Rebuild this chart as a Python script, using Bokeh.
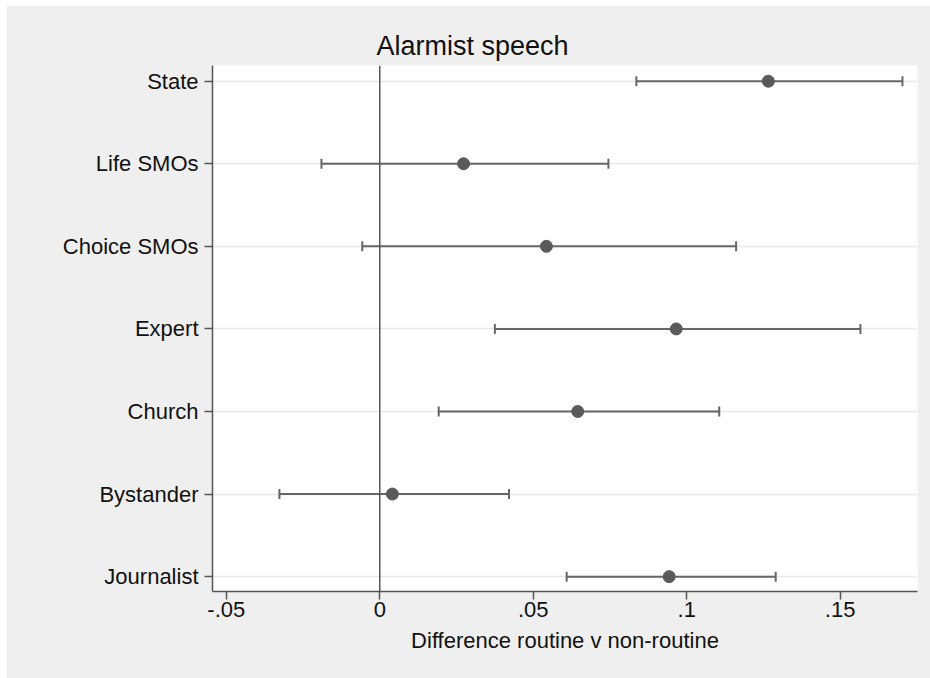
from bokeh.plotting import figure
from bokeh.models import (ColumnDataSource, Span, Title, FixedTicker, Whisker,
                          TeeHead, Range1d)
from bokeh.embed import file_html
from bokeh.resources import INLINE

# Coefficient plot: difference in alarmist speech, routine vs non-routine
categories = ["State", "Life SMOs", "Choice SMOs", "Expert", "Church",
              "Bystander", "Journalist"]
estimate = [0.1266, 0.0273, 0.0543, 0.0966, 0.0645, 0.0041, 0.0943]
lower = [0.0836, -0.0190, -0.0057, 0.0375, 0.0192, -0.0327, 0.0609]
upper = [0.1703, 0.0745, 0.1161, 0.1566, 0.1106, 0.0421, 0.1290]
x_ticks = [-0.05, 0, 0.05, 0.1, 0.15]
x_tick_labels = ["-.05", "0", ".05", ".1", ".15"]
title_text = "Alarmist speech"
x_title = "Difference routine v non-routine"

# first category sits at the top
ypos = [len(categories) - 1 - i for i in range(len(categories))]

src = ColumnDataSource(dict(y=ypos, est=estimate, lo=lower, hi=upper,
                            name=categories))

FONT = "Liberation Sans"
INK = "#111111"
BAR = "#666666"
BG = "#efefef"

p = figure(width=924, height=673, margin=(5, 0, 0, 6),
           x_range=Range1d(-0.0545, 0.1752), y_range=Range1d(-0.18, 6.19),
           output_backend="svg", toolbar_location=None,
           min_border_left=206, min_border_right=13,
           min_border_top=60, min_border_bottom=87)
p.border_fill_color = BG
p.background_fill_color = "white"
p.outline_line_color = None

# panel title, centred over the whole graph rather than the plot region
p.add_layout(Title(text=title_text, align="left", offset=164,
                   text_font=FONT, text_font_size="27px",
                   text_font_style="normal", text_color=INK,
                   standoff=9), "above")

# grid: light horizontal lines at each category only
p.xgrid.grid_line_color = None
p.ygrid.ticker = FixedTicker(ticks=ypos)
p.ygrid.grid_line_color = "#e8e8e8"
p.ygrid.grid_line_width = 1.5

# axes
p.yaxis.ticker = FixedTicker(ticks=ypos)
p.yaxis.major_label_overrides = {y: n for y, n in zip(ypos, categories)}
p.xaxis.ticker = FixedTicker(ticks=x_ticks)
p.xaxis.major_label_overrides = {t: l for t, l in zip(x_ticks, x_tick_labels)}
for ax in (p.xaxis, p.yaxis):
    ax.axis_line_color = "#555555"
    ax.axis_line_width = 1.5
    ax.major_tick_line_color = "#555555"
    ax.major_tick_line_width = 1.5
    ax.major_tick_in = 0
    ax.major_tick_out = 8
    ax.minor_tick_line_color = None
    ax.major_label_text_font = FONT
    ax.major_label_text_font_size = "22px"
    ax.major_label_text_color = INK
p.yaxis.major_label_standoff = 6
p.xaxis.major_label_standoff = 2
p.xaxis.axis_label = x_title
p.xaxis.axis_label_text_font = FONT
p.xaxis.axis_label_text_font_size = "22px"
p.xaxis.axis_label_text_font_style = "normal"
p.xaxis.axis_label_text_color = INK
p.xaxis.axis_label_standoff = 8

# reference line at zero
p.add_layout(Span(location=0, dimension="height", line_color="#555555",
                  line_width=1.5))

# confidence intervals with end caps
p.add_layout(Whisker(source=src, base="y", lower="lo", upper="hi",
                     dimension="width", line_color=BAR, line_width=2,
                     lower_head=TeeHead(size=10, line_color=BAR, line_width=2),
                     upper_head=TeeHead(size=10, line_color=BAR, line_width=2)))

# point estimates
p.scatter("est", "y", source=src, size=12, fill_color="#5a5a5a",
          line_color="#5a5a5a")

open("out.html", "w").write(file_html(p, INLINE))
